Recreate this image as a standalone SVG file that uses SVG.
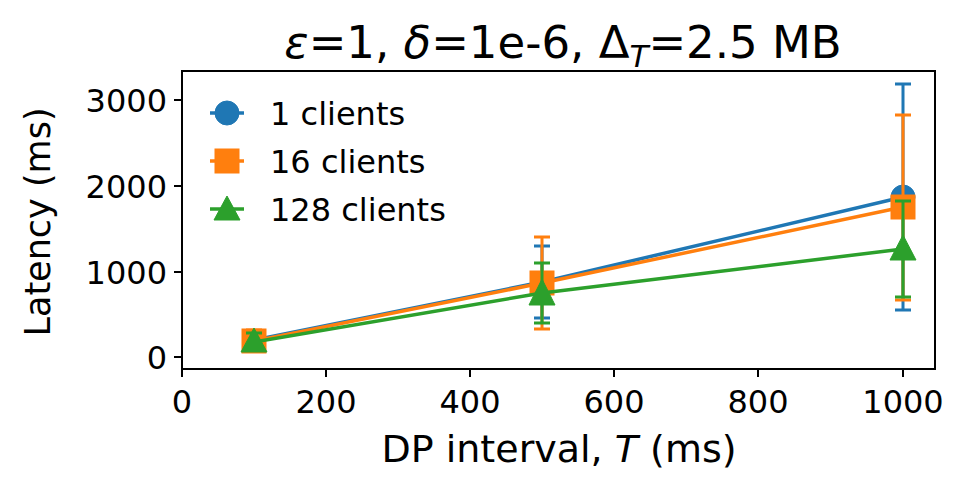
<svg xmlns="http://www.w3.org/2000/svg" width="970" height="492" viewBox="0 0 970 492">
<style>
text{font-family:"DejaVu Sans",sans-serif;fill:#000}
.t{font-size:32px}
.l{font-size:32px}
.ax{stroke:#000;stroke-width:2;fill:none}
.b{stroke:#1f77b4;fill:#1f77b4}
.o{stroke:#ff7f0e;fill:#ff7f0e}
.g{stroke:#2ca02c;fill:#2ca02c}
.ln{stroke-width:3.5;fill:none}
.e{stroke-width:3;fill:none}
</style>
<rect width="970" height="492" fill="#fff"/>
<g id="axes">
<rect x="182" y="71" width="753" height="298" class="ax"/>
<g stroke="#000" stroke-width="2">
<line x1="182" y1="369" x2="182" y2="377"/><line x1="326" y1="369" x2="326" y2="377"/><line x1="470" y1="369" x2="470" y2="377"/><line x1="614" y1="369" x2="614" y2="377"/><line x1="758" y1="369" x2="758" y2="377"/><line x1="903" y1="369" x2="903" y2="377"/>
<line x1="174" y1="357" x2="182" y2="357"/><line x1="174" y1="272" x2="182" y2="272"/><line x1="174" y1="186" x2="182" y2="186"/><line x1="174" y1="100" x2="182" y2="100"/>
</g>
<g class="t" text-anchor="middle">
<text x="182" y="413">0</text><text x="326" y="413">200</text><text x="470" y="413">400</text><text x="614" y="413">600</text><text x="758" y="413">800</text><text x="903" y="413">1000</text>
</g>
<g class="t" text-anchor="end">
<text x="167" y="369">0</text><text x="167" y="284">1000</text><text x="167" y="198">2000</text><text x="167" y="112">3000</text>
</g>
<text x="559" y="462" font-size="38" text-anchor="middle">DP interval, <tspan font-style="italic">T</tspan> (ms)</text>
<text font-size="35" transform="translate(50,222) rotate(-90)" text-anchor="middle">Latency (ms)</text>
<text x="563" y="58" font-size="45" text-anchor="middle"><tspan font-style="italic">ε</tspan>=1, <tspan font-style="italic">δ</tspan>=1e-6, Δ<tspan font-size="31" font-style="italic" dy="9">T</tspan><tspan dy="-9">=2.5 MB</tspan></text>
</g>
<g id="connectors">
<g class="b e">
<path d="M246 331H262M254 331V349M246 349H262"/>
<path d="M534 246H550M542 246V318M534 318H550"/>
<path d="M895 84H911M903 84V310M895 310H911"/>
</g>
<polyline class="b ln" points="254,340 542,282 903,197"/>
<circle class="b" cx="903" cy="197" r="12" stroke="none"/>
<g class="o e">
<path d="M246 330H262M254 330V351M246 351H262"/>
<path d="M534 237H550M542 237V329M534 329H550"/>
<path d="M895 115H911M903 115V300M895 300H911"/>
</g>
<polyline class="o ln" points="254,341 542,283 903,207"/>
<rect class="o" x="242" y="329" width="24" height="24" stroke="none"/>
<rect class="o" x="530" y="271" width="24" height="24" stroke="none"/>
<rect class="o" x="891" y="195" width="24" height="24" stroke="none"/>
<g class="g e">
<path d="M246 333H262M254 333V349M246 349H262"/>
<path d="M534 263H550M542 263V323M534 323H550"/>
<path d="M895 201H911M903 201V297M895 297H911"/>
</g>
<polyline class="g ln" points="254,342 542,293 903,249"/>
<path class="g" stroke="none" d="M254 328L267 352H241Z"/>
<path class="g" stroke="none" d="M542 279L555 305H529Z"/>
<path class="g" stroke="none" d="M903 235L916 260H890Z"/>
</g>
<g id="legend">
<line class="b ln" x1="210" y1="113" x2="244" y2="113"/><circle class="b" cx="227" cy="113" r="12" stroke="none"/>
<text class="l" x="270" y="125">1 clients</text>
<line class="o ln" x1="210" y1="161" x2="244" y2="161"/><rect class="o" x="215" y="149" width="24" height="24" stroke="none"/>
<text class="l" x="270" y="173">16 clients</text>
<line class="g ln" x1="210" y1="209" x2="244" y2="209"/><path class="g" stroke="none" d="M227 196L240 220H214Z"/>
<text class="l" x="270" y="221">128 clients</text>
</g>
</svg>
